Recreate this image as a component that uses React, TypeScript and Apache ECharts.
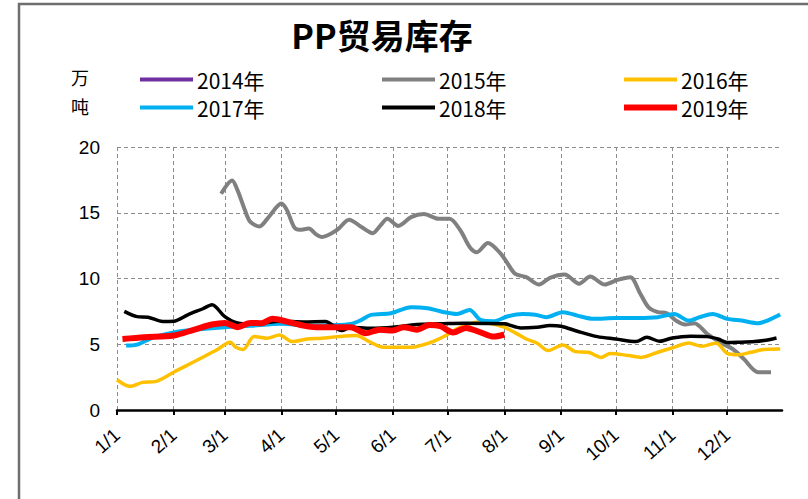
import React, { useEffect, useRef } from "react";
import * as echarts from "echarts";

// ---------- data ----------
const monthLengths = [31, 28, 31, 30, 31, 30, 31, 31, 30, 31, 30, 31];
const seriesNames = ["2014年", "2015年", "2016年", "2017年", "2018年", "2019年"];
const seriesColors = ["#7030A0", "#808080", "#FFC000", "#00B0F0", "#000000", "#FF0000"];
const yTicks = [0, 5, 10, 15, 20];
const unitLabels = ["万", "吨"];
const titleText = "PP贸易库存";

const dates2014: string[] = [];
const values2014: number[] = [];

const dates2015 = ["2/27", "3/5", "3/8", "3/12", "3/15", "3/20", "3/25", "4/1", "4/4", "4/8", "4/11", "4/16", "4/20", "4/23", "4/28", "5/2", "5/8", "5/15", "5/21", "5/25", "5/29", "6/4", "6/11", "6/18", "6/26", "7/2", "7/8", "7/13", "7/17", "7/23", "7/30", "8/3", "8/7", "8/13", "8/20", "8/26", "9/3", "9/11", "9/17", "9/25", "10/2", "10/9", "10/14", "10/19", "10/24", "10/29", "11/3", "11/8", "11/13", "11/20", "11/27", "12/4", "12/10", "12/18", "12/25"];
const values2015 = [16.45, 17.46, 16.7, 15.2, 14.3, 13.96, 14.67, 15.7, 15.2, 13.9, 13.7, 13.8, 13.35, 13.15, 13.4, 13.75, 14.47, 13.9, 13.45, 14.0, 14.55, 14.0, 14.67, 14.9, 14.54, 14.54, 13.65, 12.4, 12.0, 12.7, 11.9, 11.1, 10.35, 10.1, 9.54, 10.05, 10.3, 9.6, 10.15, 9.54, 9.9, 10.1, 8.96, 7.8, 7.44, 7.36, 6.8, 6.5, 6.6, 5.8, 5.15, 4.64, 3.9, 2.87, 2.87];

const dates2016 = ["1/1", "1/8", "1/15", "1/22", "2/1", "2/24", "3/4", "3/7", "3/11", "3/17", "3/24", "3/31", "4/7", "4/15", "4/23", "5/2", "5/12", "5/18", "5/27", "6/4", "6/11", "6/22", "6/30", "7/6", "7/13", "7/18", "7/24", "8/1", "8/8", "8/13", "8/19", "8/25", "9/2", "9/9", "9/16", "9/23", "9/28", "10/8", "10/15", "10/24", "11/2", "11/10", "11/17", "11/25", "12/1", "12/7", "12/14", "12/21", "12/30"];
const values2016 = [2.3, 1.8, 2.1, 2.16, 2.87, 4.52, 5.15, 4.77, 4.6, 5.58, 5.46, 5.7, 5.2, 5.4, 5.46, 5.58, 5.66, 5.28, 4.77, 4.77, 4.77, 5.15, 5.66, 6.17, 6.55, 6.7, 6.6, 6.3, 5.79, 5.4, 5.08, 4.52, 4.95, 4.44, 4.39, 4.0, 4.3, 4.14, 4.0, 4.39, 4.77, 5.1, 4.85, 5.08, 4.31, 4.21, 4.39, 4.6, 4.64];

const dates2017 = ["1/6", "1/12", "1/21", "2/1", "2/12", "3/1", "3/15", "4/1", "4/16", "4/28", "5/9", "5/14", "5/20", "5/31", "6/11", "6/20", "6/29", "7/6", "7/13", "7/19", "7/26", "8/3", "8/11", "8/18", "8/24", "9/2", "9/10", "9/19", "10/1", "10/13", "10/24", "11/2", "11/10", "11/16", "11/23", "12/1", "12/9", "12/18", "12/23", "12/30"];
const values2017 = [4.9, 4.97, 5.53, 5.9, 6.1, 6.3, 6.4, 6.55, 6.4, 6.45, 6.55, 6.8, 7.23, 7.36, 7.82, 7.74, 7.44, 7.3, 7.6, 6.85, 6.75, 7.13, 7.3, 7.25, 7.06, 7.44, 7.18, 6.93, 7.0, 7.0, 7.06, 7.3, 6.8, 7.06, 7.3, 6.93, 6.8, 6.6, 6.8, 7.26];

const dates2018 = ["1/5", "1/12", "1/18", "1/26", "2/1", "2/9", "2/17", "2/22", "3/1", "3/8", "3/16", "4/1", "4/13", "4/25", "5/4", "5/9", "5/20", "6/1", "6/14", "6/27", "7/10", "8/1", "8/10", "8/19", "8/26", "9/1", "9/10", "9/21", "10/1", "10/12", "10/18", "10/25", "11/1", "11/11", "11/20", "11/26", "12/1", "12/7", "12/16", "12/21", "12/28"];
const values2018 = [7.5, 7.1, 7.06, 6.73, 6.75, 7.26, 7.7, 8.0, 7.1, 6.62, 6.55, 6.75, 6.7, 6.73, 6.04, 6.3, 6.22, 6.3, 6.5, 6.55, 6.6, 6.55, 6.24, 6.3, 6.42, 6.37, 5.99, 5.58, 5.4, 5.2, 5.53, 5.23, 5.48, 5.6, 5.58, 5.4, 5.13, 5.15, 5.2, 5.28, 5.48];

const dates2019 = ["1/4", "1/16", "2/1", "2/12", "2/22", "3/1", "3/8", "3/15", "3/21", "3/27", "4/4", "4/13", "4/20", "5/2", "5/9", "5/17", "5/25", "6/1", "6/7", "6/14", "6/21", "6/27", "7/4", "7/11", "7/19", "7/26", "8/1"];
const values2019 = [5.4, 5.53, 5.66, 6.1, 6.5, 6.62, 6.3, 6.62, 6.6, 6.93, 6.72, 6.42, 6.3, 6.3, 6.3, 5.84, 6.1, 6.04, 6.3, 6.1, 6.47, 6.37, 5.9, 6.24, 5.9, 5.58, 5.74];

const seriesDates = [dates2014, dates2015, dates2016, dates2017, dates2018, dates2019];
const seriesValues = [values2014, values2015, values2016, values2017, values2018, values2019];
const lineWidths = [4, 4, 3.5, 4, 3.5, 6];

// ---------- axis categories (every day of the year) ----------
const dayCategories: string[] = [];
monthLengths.forEach((len, m) => {
  for (let d = 1; d <= len; d++) dayCategories.push(`${m + 1}/${d}`);
});
const isMonthStart = (idx: number) => /\/1$/.test(dayCategories[idx]);

const legendPos = [
  { left: 140, top: 69 },
  { left: 382, top: 69 },
  { left: 624, top: 69 },
  { left: 140, top: 97 },
  { left: 382, top: 97 },
  { left: 624, top: 97 },
];

export default function App() {
  const ref = useRef<HTMLDivElement>(null);
  useEffect(() => {
    if (!ref.current) return;
    const chart = echarts.init(ref.current, undefined, { renderer: "svg" });
    const series = seriesNames.map((name, i) => ({
      name,
      type: "line",
      showSymbol: false,
      smooth: 0.3,
      color: seriesColors[i],
      itemStyle: { color: seriesColors[i] },
      lineStyle: { color: seriesColors[i], width: lineWidths[i] },
      data: seriesDates[i].map((d, k) => [dayCategories.indexOf(d), seriesValues[i][k]]),
      z: 2 + i,
    }));
    const legends = seriesNames.map((name, i) => ({
      data: [name],
      left: legendPos[i].left,
      top: legendPos[i].top,
      icon: "rect",
      itemWidth: 53,
      itemHeight: i === 5 ? 6 : 4,
      itemGap: 0,
      selectedMode: false,
      padding: 0,
      textStyle: {
        fontFamily: "'Liberation Sans Narrow', 'Noto Sans CJK SC', sans-serif",
        fontSize: 21,
        color: "#000",
        padding: [0, 0, 0, -1],
      },
    }));
    chart.setOption({
      animation: false,
      backgroundColor: "#fff",
      title: {
        text: titleText,
        left: 377,
        top: 12,
        textAlign: "center",
        textStyle: {
          fontFamily: "'Noto Sans CJK SC', sans-serif",
          fontSize: 34,
          fontWeight: "bold",
          color: "#000",
        },
      },
      legend: legends,
      grid: { left: 117, right: 26, top: 147, bottom: 89, containLabel: false },
      xAxis: {
        type: "category",
        data: dayCategories,
        boundaryGap: false,
        axisLine: { show: true, lineStyle: { color: "#000", width: 2.5 } },
        axisTick: {
          show: true,
          length: 5,
          interval: (idx: number) => isMonthStart(idx),
          lineStyle: { color: "#000", width: 2 },
        },
        axisLabel: {
          interval: (idx: number) => isMonthStart(idx),
          rotate: 42,
          margin: 22,
          fontSize: 19,
          color: "#000",
          fontFamily: "'Liberation Sans Narrow', 'Liberation Sans', sans-serif",
        },
        splitLine: {
          show: true,
          interval: (idx: number) => isMonthStart(idx),
          lineStyle: { color: "#8c8c8c", type: [4, 3], width: 1 },
        },
      },
      yAxis: {
        type: "value",
        min: yTicks[0],
        max: yTicks[yTicks.length - 1],
        interval: 5,
        axisLine: { show: false },
        axisTick: { show: false },
        axisLabel: {
          fontSize: 19,
          color: "#000",
          margin: 17,
          fontFamily: "'Liberation Sans', Arial, sans-serif",
        },
        splitLine: { show: true, lineStyle: { color: "#8c8c8c", type: [4, 3], width: 1 } },
      },
      graphic: [
        {
          type: "rect",
          shape: { x: 19, y: 4, width: 820, height: 520 },
          style: { fill: "none", stroke: "#6e6e6e", lineWidth: 2.5 },
          silent: true,
        },
        ...unitLabels.map((t, i) => ({
          type: "text",
          x: 80,
          y: 77 + i * 29,
          style: {
            text: t,
            fontSize: 18,
            fill: "#000",
            align: "center",
            verticalAlign: "middle",
            fontFamily: "'Noto Sans CJK SC', sans-serif",
          },
        })),
      ],
      series,
    });
    return () => chart.dispose();
  }, []);
  return (
    <div
      ref={ref}
      style={{ position: "fixed", left: 0, top: 0, width: 808, height: 499 }}
    />
  );
}
